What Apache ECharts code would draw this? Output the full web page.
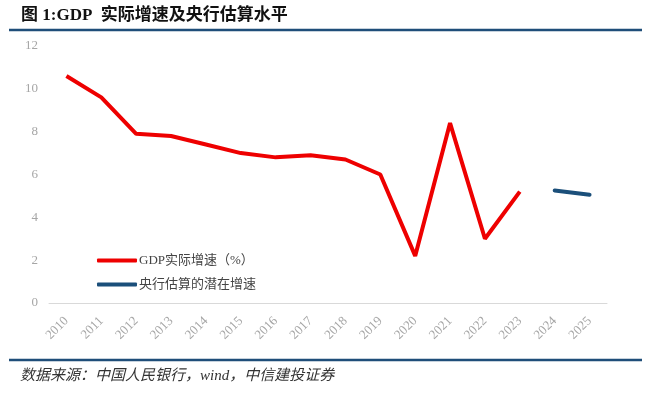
<!DOCTYPE html>
<html>
<head>
<meta charset="utf-8">
<script src="https://cdn.jsdelivr.net/npm/echarts@6/dist/echarts.min.js"></script>
<style>html,body{margin:0;padding:0;background:#fff;}#c{width:660px;height:401px;}</style>
</head>
<body>
<div id="c"></div>
<script>
var years = ['2010','2011','2012','2013','2014','2015','2016','2017','2018','2019','2020','2021','2022','2023','2024','2025'];
var gdpReal = [10.6, 9.6, 7.9, 7.8, 7.4, 7.0, 6.8, 6.9, 6.7, 6.0, 2.2, 8.4, 3.0, 5.2, null, null];
var pbocPotential = [null, null, null, null, null, null, null, null, null, null, null, null, null, null, 5.25, 5.05];
var yTicks = {min: 0, max: 12, interval: 2};

var chart = echarts.init(document.getElementById('c'));
chart.setOption({
  animation: false,
  backgroundColor: '#fff',
  grid: {left: 49, right: 53, top: 46, bottom: 98, containLabel: false},
  graphic: [
    {type: 'text', left: 21, top: 7, style: {text: '图 1:GDP  实际增速及央行估算水平', font: 'bold 17px "Liberation Serif", "Noto Sans CJK SC"', fill: '#111'}},
    {type: 'line', shape: {x1: 9, y1: 30, x2: 642, y2: 30}, style: {stroke: '#1f4e79', lineWidth: 2.5}},
    {type: 'line', shape: {x1: 9, y1: 360, x2: 642, y2: 360}, style: {stroke: '#1f4e79', lineWidth: 2.5}},
    {type: 'text', left: 20, top: 369, style: {text: '数据来源：中国人民银行，wind，中信建投证券', font: 'italic 15px "Liberation Serif", "Noto Sans CJK SC"', fill: '#333'}}
  ],
  legend: {
    orient: 'vertical', left: 92, top: 249, itemWidth: 40, itemHeight: 4, itemGap: 11,
    icon: 'roundRect',
    textStyle: {fontSize: 13, color: '#444', fontFamily: '"Liberation Serif", "Noto Sans CJK SC"', padding: [0,0,0,-3]},
    data: ['GDP实际增速（%）', '央行估算的潜在增速']
  },
  xAxis: {
    type: 'category', data: years, boundaryGap: true,
    axisLine: {lineStyle: {color: '#d9d9d9', width: 1}},
    axisTick: {inside: true, length: 4, lineStyle: {color: '#d9d9d9'}},
    axisLabel: {rotate: 45, margin: 16, fontSize: 13, color: '#a6a6a6', fontFamily: '"Liberation Serif"'},
    splitLine: {show: false}
  },
  yAxis: {
    type: 'value', min: yTicks.min, max: yTicks.max, interval: yTicks.interval,
    axisLine: {show: false}, axisTick: {show: false}, splitLine: {show: false},
    axisLabel: {fontSize: 13, color: '#a6a6a6', margin: 11, fontFamily: '"Liberation Serif"'}
  },
  series: [
    {name: 'GDP实际增速（%）', type: 'line', data: gdpReal, showSymbol: false, symbol: 'none', connectNulls: false,
     lineStyle: {color: '#ee0000', width: 4}, itemStyle: {color: '#ee0000'}},
    {name: '央行估算的潜在增速', type: 'line', data: pbocPotential, showSymbol: false, symbol: 'none',
     lineStyle: {color: '#1b4f7a', width: 4, cap: 'round'}, itemStyle: {color: '#1b4f7a'}}
  ]
});
</script>
</body>
</html>
